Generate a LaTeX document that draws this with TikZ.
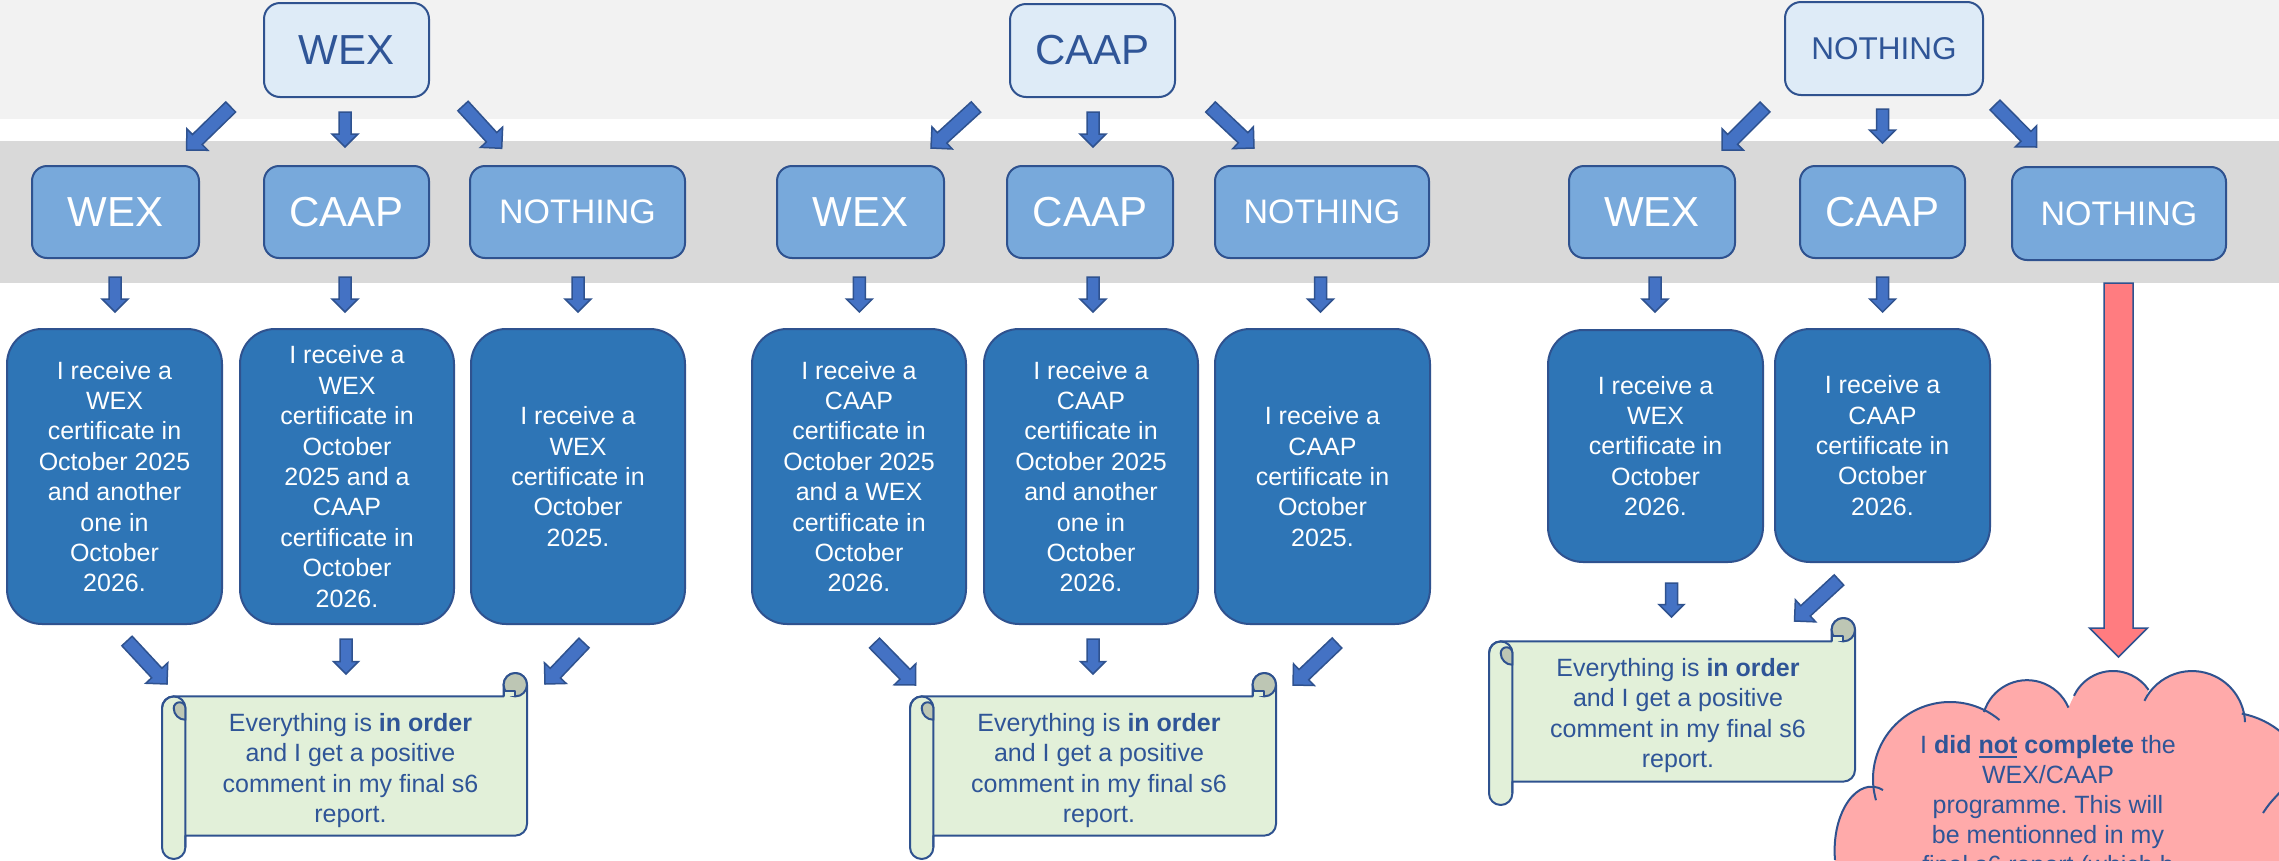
\documentclass[tikz,border=0pt]{standalone}
\usepackage{fontspec}
\setmainfont{Liberation Sans}
\usetikzlibrary{calc}
\frenchspacing
\definecolor{bandA}{HTML}{F2F2F2}
\definecolor{bandB}{HTML}{D9D9D9}
\definecolor{edge}{HTML}{2F528F}
\definecolor{topfill}{HTML}{DEEBF7}
\definecolor{midfill}{HTML}{78A9DB}
\definecolor{boxfill}{HTML}{2E75B6}
\definecolor{arrowfill}{HTML}{4472C4}
\definecolor{txt}{HTML}{2F5597}
\definecolor{scrollfill}{HTML}{E2F0D9}
\definecolor{rollfill}{HTML}{BDC6B4}
\definecolor{redfill}{HTML}{FF7C80}
\definecolor{cloudfill}{HTML}{FFAAAA}
\tikzset{
  topbox/.style={draw=edge, line width=2pt, fill=topfill, rounded corners=16pt, text=txt,
    font=\fontsize{42}{48}\selectfont, inner sep=0pt},
  midbox/.style={draw=edge, line width=2pt, fill=midfill, rounded corners=15pt, text=white,
    font=\fontsize{42}{48}\selectfont, inner sep=0pt, minimum height=92pt},
  bluebox/.style={draw=edge, line width=2pt, fill=boxfill, rounded corners=35pt, text=white,
    font=\fontsize{25}{30.4}\selectfont, align=center, inner sep=0pt},
  arrowstyle/.style={draw=edge, line width=1.5pt, fill=arrowfill, line join=miter},
  redarrow/.style={draw=edge, line width=1.5pt, fill=redfill, line join=miter},
  scrolledge/.style={draw=edge, line width=2pt, line join=round},
  scrolltext/.style={text=txt, font=\fontsize{25}{30.4}\selectfont, align=center, inner sep=0pt},
  cloudedge/.style={draw=edge, line width=2pt},
}
\newcommand\myul[1]{\vtop{\hbox{#1}\kern2pt\hrule height 1.8pt}}
% block arrow: [style]{name}{x1}{y1}{x2}{y2}{shaft half}{head half = head length}
\newcommand\blockarrow[8][arrowstyle]{%
  \coordinate (#2-s) at (#3,#4);
  \coordinate (#2-e) at (#5,#6);
  \coordinate (#2-h) at ($(#2-e)!#8!(#2-s)$);
  \draw[#1] ($(#2-s)!#7!90:(#2-e)$) -- ($(#2-h)!#7!90:(#2-e)$) -- ($(#2-h)!#8!90:(#2-e)$)
    -- (#2-e) -- ($(#2-h)!#8!-90:(#2-e)$) -- ($(#2-h)!#7!-90:(#2-e)$)
    -- ($(#2-s)!#7!-90:(#2-e)$) -- cycle;
}
% scroll: {L}{T}{R}{B}
\newcommand\scrollshape[4]{%
  \def\sL{#1}\def\sT{#2}\def\sR{#3}\def\sB{#4}%
  \draw[scrolledge, fill=scrollfill]
    ({\sL+11.7},{\sT+23.4}) -- ({\sR-23.4},{\sT+23.4}) -- ({\sR-23.4},{\sT+11.7})
    arc[start angle=180, end angle=360, radius=11.7] -- ({\sR},{\sB-35.1})
    arc[start angle=0, end angle=90, radius=11.7] -- ({\sL+23.4},{\sB-23.4})
    -- ({\sL+23.4},{\sB-11.7}) arc[start angle=0, end angle=180, radius=11.7]
    -- ({\sL},{\sT+35.1}) arc[start angle=180, end angle=270, radius=11.7] -- cycle;
  \draw[scrolledge] ({\sL},{\sT+35.1}) arc[start angle=180, end angle=360, radius=11.7]
    -- ({\sL+23.4},{\sB-11.7});
  \draw[scrolledge, fill=rollfill] ({\sL+11.7},{\sT+35.1})
    arc[start angle=180, end angle=360, radius=5.85] -- ({\sL+23.4},{\sT+46.8})
    arc[start angle=90, end angle=180, radius=11.7] -- cycle;
  \draw[scrolledge, fill=rollfill] ({\sR-11.7},{\sT+11.7}) circle[radius=11.7];
  \draw[scrolledge, fill=scrollfill] ({\sR-23.4},{\sT+23.4}) -- ({\sR-23.4},{\sT+17.55})
    -- ({\sR-11.7},{\sT+17.55}) -- ({\sR-11.7},{\sT+23.4});
  \draw[scrolledge] ({\sR},{\sT+11.7}) -- ({\sR},{\sB-35.1});
}
\begin{document}
\begin{tikzpicture}[x=1pt, y=1pt, yscale=-1]
\useasboundingbox (0,0) rectangle (2279,860);
\fill[white] (0,0) rectangle (2279,860);
\begin{scope}
\clip (0,0) rectangle (2279,860);
\fill[bandA] (0,0) rectangle (2279,119);
\fill[bandB] (0,141) rectangle (2279,283);

% top boxes
\node[topbox, minimum width=165pt, minimum height=94pt] (t1) at (346.5,50) {WEX};
\node[topbox, minimum width=165pt, minimum height=93pt] (t2) at (1092.5,50.5) {CAAP};
\node[topbox, minimum width=198pt, minimum height=93pt, font=\fontsize{31.5}{36}\selectfont] (t3) at (1884,48.5) {NOTHING};

% top arrows
\blockarrow{a1}{230.7}{107}{186.6}{150}{7pt}{15pt}
\blockarrow{a2}{345}{112}{345}{147}{6pt}{13pt}
\blockarrow{a3}{463}{106}{501.7}{148.3}{7pt}{15pt}
\blockarrow{a4}{976}{107}{931}{148}{7pt}{15pt}
\blockarrow{a5}{1093}{112}{1093}{147}{6pt}{13pt}
\blockarrow{a6}{1210.5}{107}{1254}{148}{7pt}{15pt}
\blockarrow{a7}{1765}{107}{1722}{150}{7pt}{15pt}
\blockarrow{a8}{1882.5}{109}{1882.5}{143}{6pt}{13pt}
\blockarrow{a9}{1995}{105}{2036.5}{147}{7pt}{15pt}

% middle boxes
\node[midbox, minimum width=167pt] (m1) at (115.5,212) {WEX};
\node[midbox, minimum width=165pt] (m2) at (346.5,212) {CAAP};
\node[midbox, minimum width=215pt, font=\fontsize{34}{40}\selectfont] (m3) at (577.5,212) {NOTHING};
\node[midbox, minimum width=167pt] (m4) at (860.5,212) {WEX};
\node[midbox, minimum width=166pt] (m5) at (1090,212) {CAAP};
\node[midbox, minimum width=214pt, font=\fontsize{34}{40}\selectfont] (m6) at (1322,212) {NOTHING};
\node[midbox, minimum width=166pt] (m7) at (1652,212) {WEX};
\node[midbox, minimum width=165pt] (m8) at (1882.5,212) {CAAP};
\node[midbox, minimum width=214pt, minimum height=93pt, font=\fontsize{34}{40}\selectfont] (m9) at (2119,213.5) {NOTHING};

% arrows below middle boxes
\blockarrow{b1}{115}{277}{115}{312}{6pt}{13pt}
\blockarrow{b2}{345}{277}{345}{312}{6pt}{13pt}
\blockarrow{b3}{578}{277}{578}{312}{6pt}{13pt}
\blockarrow{b4}{859.4}{277}{859.4}{312}{6pt}{13pt}
\blockarrow{b5}{1093}{277}{1093}{312}{6pt}{13pt}
\blockarrow{b6}{1320.5}{277}{1320.5}{312}{6pt}{13pt}
\blockarrow{b7}{1655}{277}{1655}{312}{6pt}{13pt}
\blockarrow{b8}{1882.6}{277}{1882.6}{312}{6pt}{13pt}
\blockarrow[redarrow]{r1}{2118.5}{283}{2118.5}{657}{14.5pt}{29pt}

% blue boxes
\node[bluebox, minimum width=215pt, minimum height=295pt] (n1) at (114.5,476.5)
  {I receive a\\WEX\\certificate in\\October 2025\\and another\\one in\\October\\2026.};
\node[bluebox, minimum width=214pt, minimum height=295pt] (n2) at (347,476.5)
  {I receive a\\WEX\\certificate in\\October\\2025 and a\\CAAP\\certificate in\\October\\2026.};
\node[bluebox, minimum width=214pt, minimum height=295pt] (n3) at (578,476.5)
  {I receive a\\WEX\\certificate in\\October\\2025.};
\node[bluebox, minimum width=214pt, minimum height=295pt] (n4) at (859,476.5)
  {I receive a\\CAAP\\certificate in\\October 2025\\and a WEX\\certificate in\\October\\2026.};
\node[bluebox, minimum width=214pt, minimum height=295pt] (n5) at (1091,476.5)
  {I receive a\\CAAP\\certificate in\\October 2025\\and another\\one in\\October\\2026.};
\node[bluebox, minimum width=215pt, minimum height=295pt] (n6) at (1322.5,476.5)
  {I receive a\\CAAP\\certificate in\\October\\2025.};
\node[bluebox, minimum width=215pt, minimum height=232pt] (n7) at (1655.5,446)
  {I receive a\\WEX\\certificate in\\October\\2026.};
\node[bluebox, minimum width=215pt, minimum height=233pt] (n8) at (1882.5,445.5)
  {I receive a\\CAAP\\certificate in\\October\\2026.};

% arrows to the scrolls
\blockarrow{c1}{127}{641}{167}{684}{7pt}{15pt}
\blockarrow{c2}{346}{639}{346}{674}{6pt}{12.5pt}
\blockarrow{c3}{584}{643}{545}{684}{7pt}{15pt}
\blockarrow{c4}{874.5}{643}{915.5}{685}{7pt}{15pt}
\blockarrow{c5}{1093}{639}{1093}{674}{6pt}{12.5pt}
\blockarrow{c6}{1337}{643}{1293}{685}{7pt}{15pt}
\blockarrow{c7}{1671.5}{583}{1671.5}{617}{6pt}{12.5pt}
\blockarrow{c8}{1839}{580}{1794.5}{621}{7pt}{15pt}

% scrolls
\scrollshape{162}{673}{527}{859}
\scrollshape{910}{673}{1276}{859}
\scrollshape{1489}{618}{1855}{805}
\node[scrolltext] (s1) at (350.5,770.5)
  {Everything is \textbf{in order}\\and I get a positive\\comment in my final s6\\report.};
\node[scrolltext] (s2) at (1099,770.5)
  {Everything is \textbf{in order}\\and I get a positive\\comment in my final s6\\report.};
\node[scrolltext] (s3) at (1678,715.5)
  {Everything is \textbf{in order}\\and I get a positive\\comment in my final s6\\report.};

% cloud
\fill[cloudfill] (1836,880) -- (1835,860) .. controls (1831,812) and (1858,775) .. (1883,790)
  -- (1876,800.2) arc[start angle=164, end angle=310, radius=77]
  -- (1984,712) arc[start angle=197, end angle=337, radius=45]
  -- (2074,695.8) arc[start angle=205, end angle=326, radius=43]
  -- (2144.4,700.8) arc[start angle=206, end angle=358, radius=53]
  -- (2241.8,713.6) arc[start angle=281, end angle=390, radius=88]
  -- (2300,880) -- cycle;
\draw[cloudedge] (1835,860) .. controls (1831,812) and (1858,775) .. (1883,790);
\draw[cloudedge] (1876,800.2) arc[start angle=164, end angle=310, radius=77];
\draw[cloudedge] (1984,712) arc[start angle=197, end angle=337, radius=45];
\draw[cloudedge] (2074,695.8) arc[start angle=205, end angle=326, radius=43];
\draw[cloudedge] (2144.4,700.8) arc[start angle=206, end angle=358, radius=53];
\draw[cloudedge] (2241.8,713.6) arc[start angle=281, end angle=390, radius=88];
\draw[cloudedge] (2263,813) .. controls (2269,804) .. (2282,790);
\node[text=txt, font=\fontsize{25}{30}\selectfont, align=center, inner sep=0pt] (cl) at (2048,807)
  {I \textbf{did \myul{not} complete} the\\WEX/CAAP\\programme. This will\\be mentionned in my\\final s6 report (which b};
\end{scope}
\end{tikzpicture}
\end{document}
